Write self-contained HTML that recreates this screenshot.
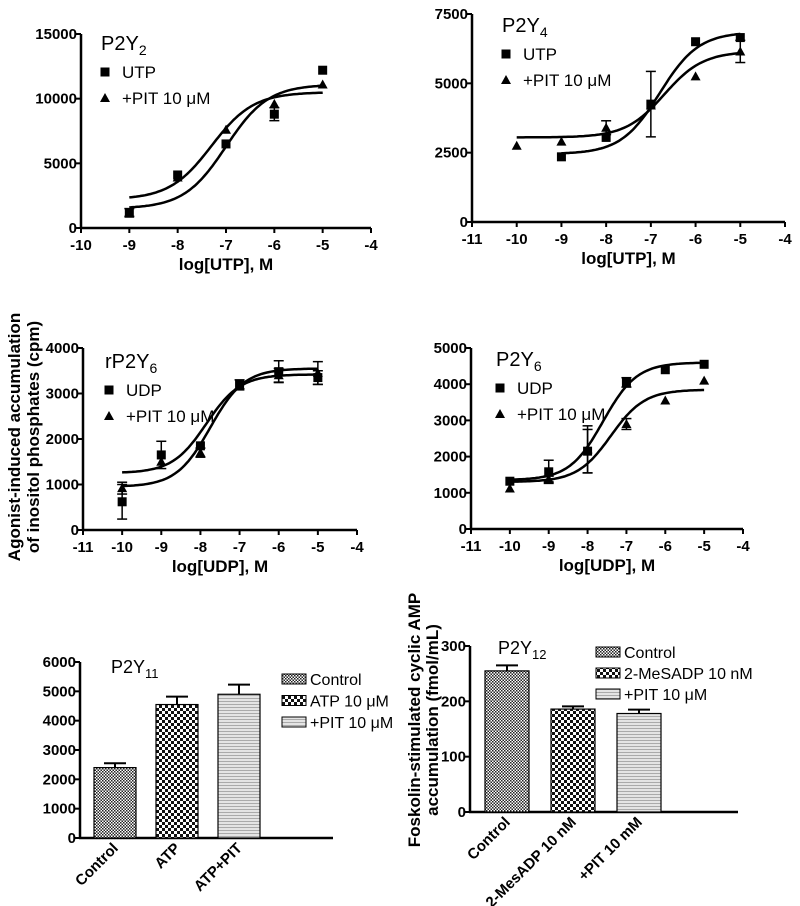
<!DOCTYPE html>
<html><head><meta charset="utf-8"><style>
html,body{margin:0;padding:0;background:#fff;}
svg{display:block;font-family:"Liberation Sans",Arial,sans-serif;}
.tk{font-size:15px;font-weight:bold;}
.ttl{font-size:17px;font-weight:bold;}
.lg{font-size:17px;}
</style></head><body>
<svg id="fig" width="800" height="906" viewBox="0 0 800 906">
<defs>
<pattern id="pFine" width="3" height="3" patternUnits="userSpaceOnUse"><rect width="3" height="3" fill="#fff"/><rect width="1.5" height="1.5" fill="#222"/><rect x="1.5" y="1.5" width="1.5" height="1.5" fill="#222"/></pattern>
<pattern id="pCoarse" width="6" height="6" patternUnits="userSpaceOnUse"><rect width="6" height="6" fill="#fff"/><rect width="3" height="3" fill="#111"/><rect x="3" y="3" width="3" height="3" fill="#111"/></pattern>
<pattern id="pLines" width="6" height="3" patternUnits="userSpaceOnUse"><rect width="6" height="3" fill="#e4e4e4"/><rect y="2" width="6" height="1" fill="#aaa"/></pattern>
</defs>
<g id="root"></g>
</svg>
<script>
// ---- Panel A: P2Y2 ----
const aX = [-9,-8,-7,-6,-5];
const aUTP = [1200,4100,6500,8800,12200];
const aUTPerr = [300,0,0,500,0];
const aPIT = [1100,3900,7600,9600,11100];
const aPITerr = [0,0,0,0,0];
const aFitUTP = [1500,11100,-7.0];
const aFitPIT = [2200,10500,-7.3];
const aYTicks = [0,5000,10000,15000];
const aXTicks = [-10,-9,-8,-7,-6,-5,-4];
// ---- Panel B: P2Y4 ----
const bXU = [-9,-8,-7,-6,-5];
const bUTP = [2350,3050,4250,6500,6650];
const bUTPerr = [0,0,1180,0,0];
const bXP = [-10,-9,-8,-7,-6,-5];
const bPIT = [2750,2900,3400,4200,5250,6150];
const bPITerr = [0,0,250,0,0,400];
const bFitUTP = [2450,6850,-6.8];
const bFitPIT = [3050,6150,-6.7];
const bYTicks = [0,2500,5000,7500];
const bXTicks = [-11,-10,-9,-8,-7,-6,-5,-4];
// ---- Panel C: rP2Y6 ----
const cX = [-10,-9,-8,-7,-6,-5];
const cUDP = [620,1650,1850,3200,3480,3350];
const cUDPerr = [380,300,0,100,240,150];
const cPIT = [920,1500,1700,3150,3400,3450];
const cPITerr = [130,0,100,0,150,250];
const cFitUDP = [1250,3420,-7.85];
const cFitPIT = [950,3550,-7.75];
const cYTicks = [0,1000,2000,3000,4000];
const cXTicks = [-11,-10,-9,-8,-7,-6,-5,-4];
// ---- Panel D: P2Y6 ----
const dX = [-10,-9,-8,-7,-6,-5];
const dUDP = [1320,1580,2150,4050,4400,4550];
const dUDPerr = [0,320,600,130,0,0];
const dPIT = [1120,1380,2200,2900,3550,4100];
const dPITerr = [0,80,650,150,0,0];
const dFitUDP = [1350,4600,-7.6];
const dFitPIT = [1300,3850,-7.4];
const dYTicks = [0,1000,2000,3000,4000,5000];
const dXTicks = [-11,-10,-9,-8,-7,-6,-5,-4];
// ---- Panel E: P2Y11 bars ----
const eCats = ["Control","ATP","ATP+PIT"];
const eVals = [2400,4550,4900];
const eErr = [150,270,330];
const eYTicks = [0,1000,2000,3000,4000,5000,6000];
const eLegend = ["Control","ATP 10 \u03bcM","+PIT 10 \u03bcM"];
// ---- Panel F: P2Y12 bars ----
const fCats = ["Control","2-MesADP 10 nM","+PIT 10 mM"];
const fVals = [255,186,178];
const fErr = [10,5,7];
const fYTicks = [0,100,200,300];
const fLegend = ["Control","2-MeSADP 10 nM","+PIT 10 \u03bcM"];

const NS="http://www.w3.org/2000/svg";
const root=document.getElementById('root');
function el(tag,attrs,parent){const e=document.createElementNS(NS,tag);for(const k in attrs)e.setAttribute(k,attrs[k]);(parent||root).appendChild(e);return e;}
function txt(s,attrs,parent){const t=el('text',attrs,parent);t.textContent=s;return t;}

function axes(g,cfg){
  const {x0,x1,y0,y1,ymax,xmin,xmax}=cfg;
  const sx=v=>x0+(v-xmin)/(xmax-xmin)*(x1-x0);
  const sy=v=>y0-(v/ymax)*(y0-y1);
  const ya=el('line',{x1:x0,y1:y0,x2:x0,y2:y1,stroke:'#000','stroke-width':2.5},g);
  
  
  const xa=el('line',{x1:x0-1,y1:y0,x2:x1,y2:y0,stroke:'#000','stroke-width':2.5},g);
  
  
  const tkStyle=cfg.tkSize?{'font-size':cfg.tkSize}:{};
  cfg.yTicks.forEach(v=>{
    el('line',{x1:x0-5,y1:sy(v),x2:x0,y2:sy(v),stroke:'#000','stroke-width':2},g);
    const t=txt(String(v),Object.assign({x:x0-4,y:sy(v)+5,'text-anchor':'end',class:'tk'},tkStyle),g);
    
    
  });
  if(cfg.xTicks){cfg.xTicks.forEach(v=>{
    el('line',{x1:sx(v),y1:y0,x2:sx(v),y2:y0+5,stroke:'#000','stroke-width':2},g);
    const t=txt(String(v),{x:sx(v),y:y0+22,'text-anchor':'middle',class:'tk'},g);
    
    
  });}
  return {sx,sy};
}
function square(g,x,y){const r=el('rect',{x:x-4.5,y:y-4.5,width:9,height:9,fill:'#000'},g);}
function tri(g,x,y){const p=el('polygon',{points:`${x},${y-5} ${x-5},${y+4} ${x+5},${y+4}`,fill:'#000'},g);}
function errbar(g,x,ylo,yhi){if(Math.abs(ylo-yhi)<1)return;el('line',{x1:x,y1:ylo,x2:x,y2:yhi,stroke:'#000','stroke-width':1.5},g);el('line',{x1:x-5,y1:ylo,x2:x+5,y2:ylo,stroke:'#000','stroke-width':1.5},g);el('line',{x1:x-5,y1:yhi,x2:x+5,y2:yhi,stroke:'#000','stroke-width':1.5},g);}
function curve(g,s,fit,xa,xb,name){
  const [bot,top,ec]=fit;let d='';
  for(let i=0;i<=100;i++){const x=xa+(xb-xa)*i/100;const y=bot+(top-bot)/(1+Math.pow(10,ec-x));d+=(i?'L':'M')+s.sx(x).toFixed(1)+','+s.sy(y).toFixed(1);}
  const p=el('path',{d,fill:'none',stroke:'#000','stroke-width':2.5},g);
  
  
}
function legendCurve(g,lx,ly,title,sub,name1){
  const t=txt(title,{x:lx,y:ly,'font-size':'20'},g);
  
  
  const ts=el('tspan',{'font-size':'14',dy:'5'},t);ts.textContent=sub;
  square(g,lx+4,ly+22);txt(name1,{x:lx+21,y:ly+28,class:'lg'},g);
  tri(g,lx+4,ly+48);txt('+PIT 10 \u03bcM',{x:lx+21,y:ly+54,class:'lg'},g);
}
function curvePanel(name,cfg,xs1,v1,e1,xs2,v2,e2,fit1,fit2,xlab,title,sub,lgx,lgy,s1name){
  const g=el('g',{});
  
  
  const s=axes(g,cfg);
  curve(g,s,fit1,xs1[0],xs1[xs1.length-1],'fit-curve-'+s1name.toLowerCase());
  curve(g,s,fit2,xs2[0],xs2[xs2.length-1],'fit-curve-pit');
  xs1.forEach((x,i)=>{errbar(g,s.sx(x),s.sy(v1[i]-e1[i]),s.sy(v1[i]+e1[i]));square(g,s.sx(x),s.sy(v1[i]));});
  xs2.forEach((x,i)=>{errbar(g,s.sx(x),s.sy(v2[i]-e2[i]),s.sy(v2[i]+e2[i]));tri(g,s.sx(x),s.sy(v2[i]));});
  const t=txt(xlab,{x:(cfg.x0+cfg.x1)/2,y:cfg.y0+42,'text-anchor':'middle',class:'ttl'},g);
  
  
  legendCurve(g,lgx,lgy,title,sub,s1name);
}
curvePanel('panel-p2y2',{x0:81,x1:371,y0:228,y1:34,ymax:15000,xmin:-10,xmax:-4,yTicks:aYTicks,xTicks:aXTicks},aX,aUTP,aUTPerr,aX,aPIT,aPITerr,aFitUTP,aFitPIT,'log[UTP], M','P2Y','2',101,50,'UTP');
curvePanel('panel-p2y4',{x0:472,x1:785,y0:222,y1:14,ymax:7500,xmin:-11,xmax:-4,yTicks:bYTicks,xTicks:bXTicks},bXU,bUTP,bUTPerr,bXP,bPIT,bPITerr,bFitUTP,bFitPIT,'log[UTP], M','P2Y','4',502,32,'UTP');
curvePanel('panel-rp2y6',{x0:83,x1:357,y0:530,y1:348,ymax:4000,xmin:-11,xmax:-4,yTicks:cYTicks,xTicks:cXTicks},cX,cUDP,cUDPerr,cX,cPIT,cPITerr,cFitUDP,cFitPIT,'log[UDP], M','rP2Y','6',105,368,'UDP');
curvePanel('panel-p2y6',{x0:471,x1:743,y0:529,y1:348,ymax:5000,xmin:-11,xmax:-4,yTicks:dYTicks,xTicks:dXTicks},dX,dUDP,dUDPerr,dX,dPIT,dPITerr,dFitUDP,dFitPIT,'log[UDP], M','P2Y','6',496,366,'UDP');

(function(){const t=txt('',{transform:'translate(20,437) rotate(-90)','text-anchor':'middle',class:'ttl','font-size':'16'});


const a=el('tspan',{x:0,y:0},t);a.textContent='Agonist-induced accumulation';const b=el('tspan',{x:0,y:19},t);b.textContent='of inositol phosphates (cpm)';})();

const fills=['url(#pFine)','url(#pCoarse)','url(#pLines)'];
function barPanel(name,cfg,cats,vals,errs,leg,lgx,lgy,lgdy,title,sub,tx,ty){
  const g=el('g',{});
  
  
  const s=axes(g,cfg);
  cats.forEach((c,i)=>{
    const bx=cfg.bx0+i*cfg.bstep;
    const r=el('rect',{x:bx,y:s.sy(vals[i]),width:cfg.bw,height:cfg.y0-s.sy(vals[i]),fill:fills[i],stroke:'#000','stroke-width':1.2},g);
    
    
    const cx=bx+cfg.bw/2;
    el('line',{x1:cx,y1:s.sy(vals[i]),x2:cx,y2:s.sy(vals[i]+errs[i]),stroke:'#000','stroke-width':2},g);
    el('line',{x1:cx-11,y1:s.sy(vals[i]+errs[i]),x2:cx+11,y2:s.sy(vals[i]+errs[i]),stroke:'#000','stroke-width':2},g);
    const t=txt(c,{transform:`translate(${cx+4},${cfg.y0+11}) rotate(-45)`,'text-anchor':'end',class:'tk','font-size':'13'},g);
    
    
  });
  leg.forEach((l,i)=>{
    const y=lgy+i*lgdy;
    el('rect',{x:lgx,y:y-5,width:24,height:10,fill:fills[i],stroke:'#000','stroke-width':1},g);
    const t=txt(l,{x:lgx+28,y:y+6,'font-size':'16'},g);
    
    
  });
  const t=txt(title,{x:tx,y:ty,'font-size':'18'},g);
  
  
  const ts=el('tspan',{'font-size':'13',dy:'5'},t);ts.textContent=sub;
}
barPanel('panel-p2y11',{x0:80,x1:333,y0:838,y1:662,ymax:6000,xmin:0,xmax:1,yTicks:eYTicks,tkSize:'14',bx0:94,bstep:62,bw:42},eCats,eVals,eErr,eLegend,282,679,21.5,'P2Y','11',111,673);
barPanel('panel-p2y12',{x0:470,x1:738,y0:812,y1:646,ymax:300,xmin:0,xmax:1,yTicks:fYTicks,tkSize:'14',bx0:485,bstep:66,bw:44},fCats,fVals,fErr,fLegend,596,652,21,'P2Y','12',498,654);

(function(){const t=txt('',{transform:'translate(420,720) rotate(-90)','text-anchor':'middle',class:'ttl','font-size':'16'});


const a=el('tspan',{x:0,y:0},t);a.textContent='Foskolin-stimulated cyclic AMP';const b=el('tspan',{x:0,y:18},t);b.textContent='accumulation (fmol/mL)';})();
</script>
</body></html>
